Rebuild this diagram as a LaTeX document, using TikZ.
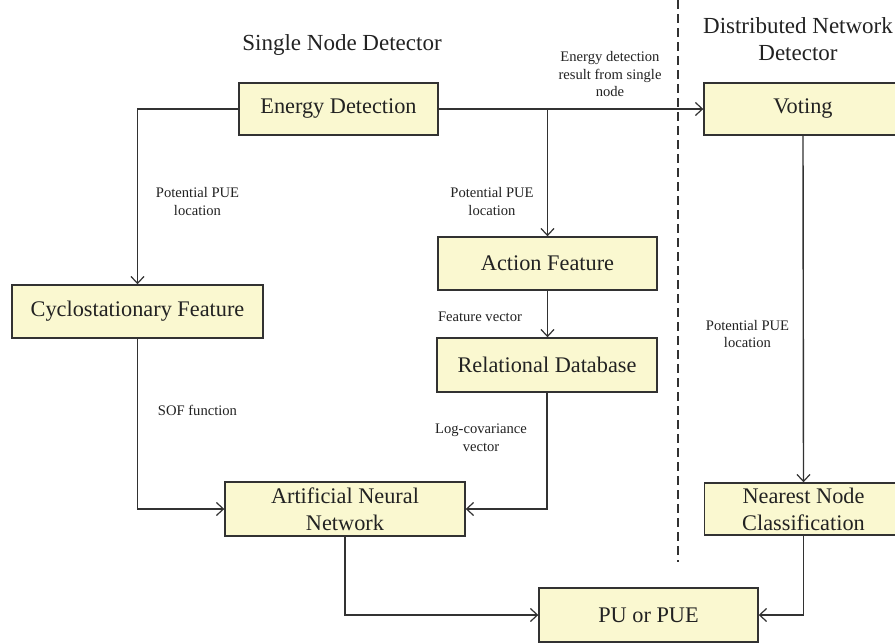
\documentclass[tikz,border=0pt]{standalone}
\usepackage{fontspec}
\setmainfont{Liberation Serif}
\usetikzlibrary{arrows.meta}

\definecolor{boxfill}{RGB}{250,248,208}
\definecolor{boxline}{RGB}{50,50,50}
\definecolor{inkcol}{RGB}{34,34,34}

\tikzset{
  blockbox/.style={draw=boxline, fill=boxfill, line width=1.4pt, inner sep=0pt,
    align=center, text=inkcol, font=\fontsize{22.3}{27}\selectfont},
  flowline/.style={draw=boxline, line width=1.4pt, -{Straight Barb[length=7pt,width=13pt,line width=1.2pt]}},
  plainline/.style={draw=boxline, line width=1.4pt},
  smalllabel/.style={align=center, text=inkcol, inner sep=0pt, font=\fontsize{14.6}{17.5}\selectfont},
  headlabel/.style={align=center, text=inkcol, inner sep=0pt, font=\fontsize{23}{27}\selectfont},
}

\begin{document}
\begin{tikzpicture}[x=1pt, y=-1pt]
  \clip (0,0) rectangle (895,643);
  \fill[white] (0,0) rectangle (895,643);

  % separator between the single-node and the distributed part
  \coordinate (septop) at (678,0);
  \coordinate (sepbot) at (678,562);
  \draw[boxline, line width=1.4pt, dash pattern=on 9pt off 5pt] (septop) -- (sepbot);

  % section headings
  \node[headlabel] (hsingle) at (342,45) {Single Node Detector};
  \node[headlabel] (hdist) at (798,39) {Distributed Network\\Detector};

  % blocks
  \node[blockbox, minimum width=199pt, minimum height=52pt] (energy) at (338.5,109) {Energy Detection};
  \node[blockbox, minimum width=198pt, minimum height=52pt] (voting) at (803,109) {Voting};
  \node[blockbox, minimum width=251pt, minimum height=53pt] (cyclo) at (137.5,311.5) {Cyclostationary Feature};
  \node[blockbox, minimum width=219pt, minimum height=53pt] (action) at (547.5,263.5) {Action Feature};
  \node[blockbox, minimum width=220pt, minimum height=54pt] (rel) at (547,365) {Relational Database};
  \node[blockbox, minimum width=240pt, minimum height=54pt] (ann) at (345,509) {Artificial Neural\\Network};
  \node[blockbox, minimum width=219pt, minimum height=54pt] (pu) at (648.5,615) {PU or PUE};
  \node[blockbox, minimum width=198pt, minimum height=52pt] (nearest) at (803.5,509) {Nearest Node\\Classification};

  % connectors
  \draw[flowline] (energy.east) -- (voting.west);
  \draw[flowline] (action.north |- energy.east) -- (action.north);
  \draw[flowline] (energy.west) -| (cyclo.north);
  \draw[flowline] (action.south) -- (action.south |- rel.north);
  \draw[flowline] (rel.south) |- (ann.east);
  \draw[flowline] (cyclo.south) |- (ann.west);
  \draw[flowline] (ann.south) |- (pu.west);
  \draw[flowline] (voting.south) -- (nearest.north);
  \draw[flowline] (nearest.south) |- (pu.east);

  % connector labels
  \node[smalllabel] (lenergy) at (610,74.5) {Energy detection\\result from single\\node};
  \node[smalllabel] (lpueleft) at (197.5,201.5) {Potential PUE\\location};
  \node[smalllabel] (lpuemid) at (492,201.5) {Potential PUE\\location};
  \node[smalllabel] (lfeat) at (480,317) {Feature vector};
  \node[smalllabel] (lsof) at (197.5,410) {SOF function};
  \node[smalllabel] (llog) at (481,437.5) {Log-covariance\\vector};
  \node[smalllabel] (lpueright) at (747.5,334) {Potential PUE\\location};
\end{tikzpicture}
\end{document}
